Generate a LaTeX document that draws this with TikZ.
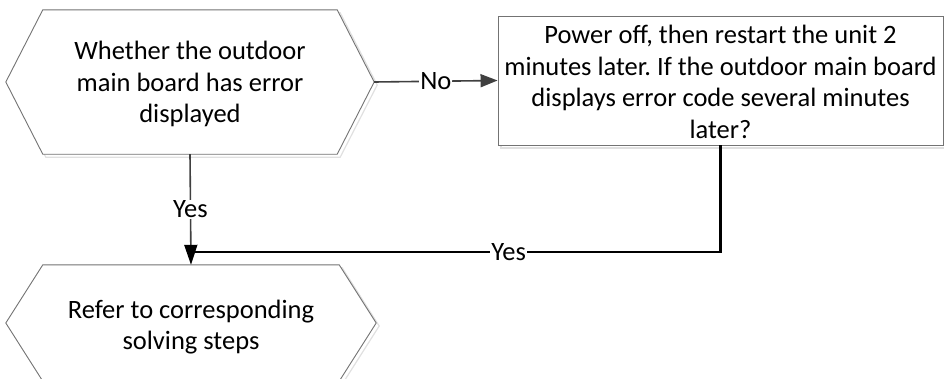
\documentclass[tikz,border=0pt]{standalone}
\usepackage{fontspec}
\setmainfont{Carlito}
\frenchspacing
\usetikzlibrary{arrows.meta,calc}
\begin{document}
\begin{tikzpicture}[x=1pt,y=-1pt,
  txt/.style={align=center,font=\fontsize{26.5}{31.5}\selectfont,inner sep=0pt},
  shapeline/.style={draw=black!55,line width=0.9pt,fill=white},
  shadowline/.style={draw=black!12,line width=1.2pt},
  conn/.style={draw=black!75,line width=1.6pt},
  connb/.style={draw=black,line width=2.2pt},
  lbl/.style={fill=white,font=\fontsize{26.5}{28}\selectfont,inner sep=1pt}]
\useasboundingbox (0,0) rectangle (944,378);
% hexagon 1
\node[minimum width=368pt,minimum height=144pt,inner sep=0pt] (q1) at (190,82) {};
\draw[shadowline] ($(q1.west)+(3,3)$) -- ($(q1.north west)+(40,3)$) -- ($(q1.north east)+(-34,3)$) -- ($(q1.east)+(3,3)$) -- ($(q1.south east)+(-34,3)$) -- ($(q1.south west)+(40,3)$) -- cycle;
\draw[shapeline] (q1.west) -- ($(q1.north west)+(37,0)$) -- ($(q1.north east)+(-37,0)$) -- (q1.east) -- ($(q1.south east)+(-37,0)$) -- ($(q1.south west)+(37,0)$) -- cycle;
\node[txt] at (190,84) {Whether the outdoor\\main board has error\\displayed};
% box
\draw[shadowline] (501,19) rectangle (946,148);
\node[shapeline,minimum width=445pt,minimum height=129pt,inner sep=0pt] (box) at (720.5,80.5) {};
\node[txt] at (720.5,82) {Power off, then restart the unit 2\\minutes later. If the outdoor main board\\displays error code several minutes\\later?};
% hexagon 2
\node[minimum width=370pt,minimum height=116pt,inner sep=0pt] (q2) at (191,323) {};
\draw[shadowline] ($(q2.west)+(3,3)$) -- ($(q2.north west)+(40,3)$) -- ($(q2.north east)+(-34,3)$) -- ($(q2.east)+(3,3)$) -- ($(q2.south east)+(-34,3)$) -- ($(q2.south west)+(40,3)$) -- cycle;
\draw[shapeline] (q2.west) -- ($(q2.north west)+(37,0)$) -- ($(q2.north east)+(-37,0)$) -- (q2.east) -- ($(q2.south east)+(-37,0)$) -- ($(q2.south west)+(37,0)$) -- cycle;
\node[txt] at (191,327) {Refer to corresponding\\solving steps};
% connectors
\draw[conn,-{Triangle[length=17pt,width=13pt]}] (q1.east) -- node[lbl] {No} (box.west);
\coordinate (join) at ($(q2.north)+(0,-13)$);
\draw[connb] (box.south) |- node[lbl,pos=0.70] {Yes} (join);
\draw[conn,-{Triangle[length=20pt,width=13pt,color=black]}] (q1.south) -- node[lbl] {Yes} (q2.north);
\end{tikzpicture}
\end{document}
